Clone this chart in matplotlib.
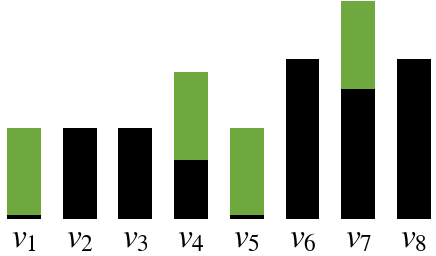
import numpy as np
import matplotlib.pyplot as plt

# values (pixel-ish units)
labels = [r"$v_{%d}$" % i for i in range(1, 9)]
black_part = [4, 91, 91, 59, 4, 160, 130, 160]
green_part = [87, 0, 0, 88, 87, 0, 88, 0]

plt.rcParams["mathtext.fontset"] = "stix"

fig = plt.figure(figsize=(4.36, 2.56), dpi=100)
ax = fig.add_axes([0, 1 - 219 / 256, 1, 219 / 256])

x = np.arange(len(labels))
w = 0.61
ax.bar(x, black_part, width=w, color="black")
ax.bar(x, green_part, width=w, bottom=black_part, color="#70A840")

for xi, lab in zip(x, labels):
    ax.text(xi, -29, lab, ha="center", va="baseline", fontsize=24,
            clip_on=False)

ax.set_xlim(-0.431, 7.397)
ax.set_ylim(0, 219)
ax.axis("off")

fig.savefig("out.png", dpi=100)
